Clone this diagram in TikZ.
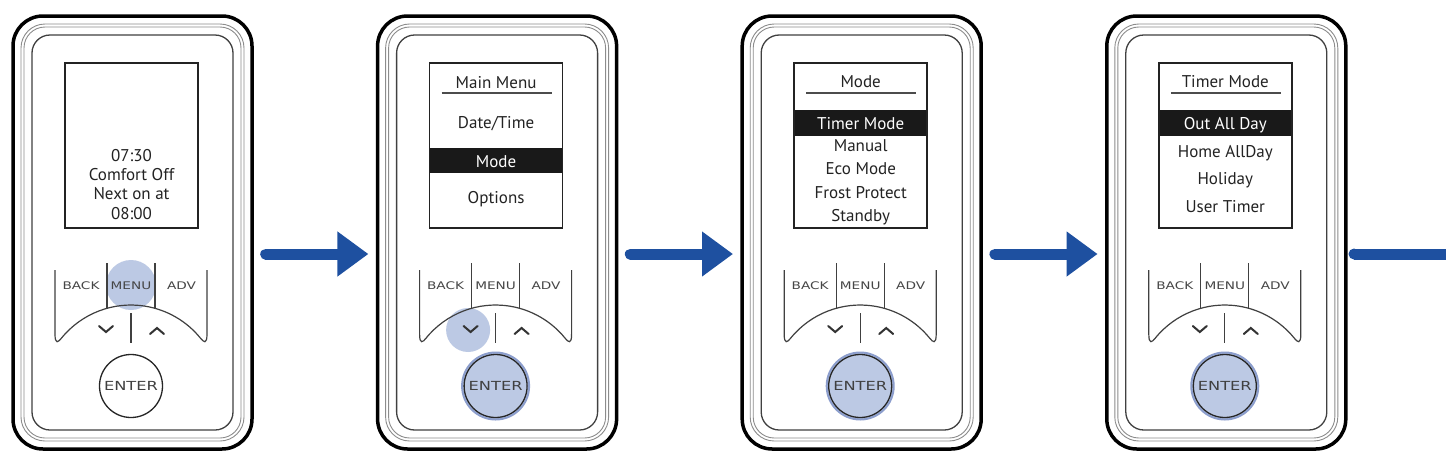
\documentclass[tikz,border=0pt]{standalone}
\usepackage{fontspec}
\newfontfamily\scrfont{PT Sans}
\newfontfamily\btnfont[FakeStretch=1.3]{DejaVu Sans}
\usetikzlibrary{arrows.meta}
\definecolor{flowblue}{RGB}{30,80,160}
\definecolor{hlblue}{RGB}{188,201,228}
\definecolor{hlring}{RGB}{140,158,205}
\definecolor{ink}{RGB}{35,35,35}
\definecolor{btngray}{RGB}{70,70,70}
\begin{document}
\begin{tikzpicture}[x=1pt,y=-1pt,
  bodyframe/.style={draw=black,line width=3.5pt,rounded corners=30pt},
  rimline/.style={draw=black!45,line width=0.9pt},
  innerframe/.style={draw=black!75,line width=1.3pt,rounded corners=18pt},
  screenbox/.style={draw=ink,line width=1.6pt,minimum width=133pt,minimum height=165pt,inner sep=0pt},
  scrtext/.style={font=\scrfont\fontsize{17}{20}\selectfont,text=ink,inner sep=0pt,text height=12pt,text depth=0pt},
  seltext/.style={scrtext,text=white},
  selbar/.style={fill=black!90},
  ruleline/.style={draw=black!70,line width=1.5pt},
  keyline/.style={draw=black!75,line width=1.2pt},
  keylabel/.style={font=\btnfont\fontsize{10.5}{12}\selectfont,text=btngray,inner sep=0pt},
  chevron/.style={draw=black!80,line width=2pt,line cap=round},
  enterkey/.style={circle,draw=black!85,line width=1.3pt,minimum size=63pt,inner sep=0pt,font=\btnfont\fontsize{12.5}{14}\selectfont,text=black!75},
  keyglow/.style={fill=hlblue},
  enterglow/.style={fill=hlblue,draw=hlring,line width=2pt},
  flowshaft/.style={draw=flowblue,line width=11pt,line cap=round},
  flowarrow/.style={flowshaft,-{Triangle[length=31pt,width=43pt]}},
  device/.style={minimum width=239pt,minimum height=433pt,inner sep=0pt}
]
\fill[white] (0,0) rectangle (1446,456);
\useasboundingbox (0,0) rectangle (1446,456);

% highlights and selection bars (below the outlines)
\fill[keyglow] (131,285) circle[radius=25];
\fill[keyglow] (468.1,330) circle[radius=22];
\foreach \gx in {495.6,860.2,1224.8}{
  \draw[enterglow] (\gx,386) circle[radius=33.5];
}
\fill[selbar] (429.6,148) rectangle (562.6,173);
\fill[selbar] (794.2,110) rectangle (927.2,136);
\fill[selbar] (1158.8,110) rectangle (1291.8,136);

% the four thermostats
\foreach \i/\dx in {1/0,2/364.6,3/729.2,4/1093.8}{
 \begin{scope}[xshift=\dx pt]
  \node[device] (d\i) at (132.5,232.5) {};
  \draw[bodyframe] (13,16) rectangle (252,449);
  \draw[rimline,rounded corners=24pt] (21,24) rectangle (244,441);
  \draw[rimline,rounded corners=21pt] (24,27) rectangle (241,438);
  \draw[innerframe] (32,35) rectangle (233,430);
  \node[screenbox] (s\i) at (131.5,145.5) {};
  \draw[keyline] (55,270) -- (55,334) .. controls (55,345) and (58.3,342.1) .. (61.4,338.2)
     arc[start angle=-141,end angle=-39,radius=89.5]
     .. controls (203.7,342.1) and (207,345) .. (207,334) -- (207,270);
  \draw[keyline] (107,263) -- (107,308.3);
  \draw[keyline] (155,263) -- (155,308.3);
  \draw[keyline] (131,313) -- (131,343);
  \node[keylabel] (back\i) at (81,286) {BACK};
  \node[keylabel] (menu\i) at (131,286) {MENU};
  \node[keylabel] (adv\i) at (181.5,286) {ADV};
  \draw[chevron] (99,326) -- (106,332) -- (113,326);
  \draw[chevron] (150,334) -- (157,328) -- (164,334);
  \node[enterkey] (e\i) at (131,386) {ENTER};
 \end{scope}
}

% screen 1
\node[scrtext] (a1) at (131.5,155) {07:30};
\node[scrtext] (a2) at (131.5,174) {Comfort Off};
\node[scrtext] (a3) at (131.5,193) {Next on at};
\node[scrtext] (a4) at (131.5,213) {08:00};

% screen 2
\begin{scope}[xshift=364.6pt]
  \node[scrtext] (b0) at (131.5,82) {Main Menu};
  \draw[ruleline] (77,93) -- (187,93);
  \node[scrtext] (b1) at (131.5,122) {Date/Time};
  \node[seltext] (b2) at (131.5,161) {Mode};
  \node[scrtext] (b3) at (131.5,197) {Options};
\end{scope}

% screen 3
\begin{scope}[xshift=729.2pt]
  \node[scrtext] (c0) at (131.5,81) {Mode};
  \draw[ruleline] (77,93) -- (187,93);
  \node[seltext] (c1) at (131.5,123) {Timer Mode};
  \node[scrtext] (c2) at (131.5,145) {Manual};
  \node[scrtext] (c3) at (131.5,168) {Eco Mode};
  \node[scrtext] (c4) at (131.5,192) {Frost Protect};
  \node[scrtext] (c5) at (131.5,215) {Standby};
\end{scope}

% screen 4
\begin{scope}[xshift=1093.8pt]
  \node[scrtext] (f0) at (131.5,81) {Timer Mode};
  \draw[ruleline] (77,93) -- (187,93);
  \node[seltext] (f1) at (131.5,123) {Out All Day};
  \node[scrtext] (f2) at (131.5,151) {Home AllDay};
  \node[scrtext] (f3) at (131.5,178) {Holiday};
  \node[scrtext] (f4) at (131.5,206) {User Timer};
\end{scope}

% flow arrows
\draw[flowarrow,shorten <=13.5pt,shorten >=9pt] ([yshift=-21.5pt]d1.east) -- ([yshift=-21.5pt]d2.west);
\draw[flowarrow,shorten <=13.5pt,shorten >=9pt] ([yshift=-21.5pt]d2.east) -- ([yshift=-21.5pt]d3.west);
\draw[flowarrow,shorten <=13.5pt,shorten >=9pt] ([yshift=-21.5pt]d3.east) -- ([yshift=-21.5pt]d4.west);
\coordinate (rim) at (1446,254);
\draw[flowshaft,line cap=butt,shorten <=8pt] ([yshift=-21.5pt]d4.east) -- (rim);
\fill[flowblue] ([xshift=8pt,yshift=-21.5pt]d4.east) circle[radius=5.5];
\end{tikzpicture}
\end{document}
